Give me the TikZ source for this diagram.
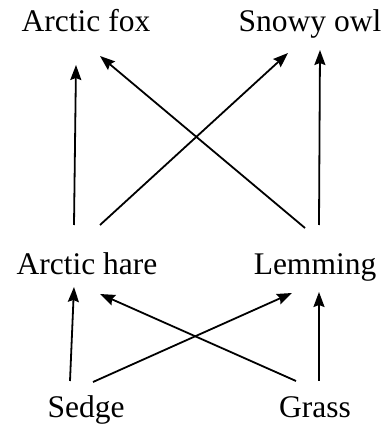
\documentclass[tikz,border=0pt]{standalone}
\usepackage{fontspec}
\setmainfont{Liberation Serif}
\usetikzlibrary{arrows.meta}

\begin{document}
\begin{tikzpicture}[
    x=1pt, y=1pt,
    >={Stealth[length=15pt, width=11pt, inset=2pt]},
    species/.style={anchor=base, inner sep=0pt, font=\fontsize{31.5}{36}\selectfont},
    feeds/.style={->, line width=1.8pt}
    ]
    \useasboundingbox (0,0) rectangle (388,429);

    % --- Especies ---
    \node (fox)     [species] at (86,397)  {Arctic fox};
    \node (owl)     [species] at (310,397) {Snowy owl};
    \node (hare)    [species] at (87,154)  {Arctic hare};
    \node (lemming) [species] at (315,154) {Lemming};
    \node (sedge)   [species] at (86,11)   {Sedge};
    \node (grass)   [species] at (315,11)  {Grass};

    % --- Nivel superior ---
    \draw[feeds] ([shift={(-13,50)}]hare.base) -- ([shift={(-10,-33)}]fox.base);
    \draw[feeds] ([shift={(13,50)}]hare.base) -- ([shift={(-22,-21)}]owl.base);
    \draw[feeds] ([shift={(-10,47)}]lemming.base) -- ([shift={(14,-24)}]fox.base);
    \draw[feeds] ([shift={(4,50)}]lemming.base) -- ([shift={(10,-18)}]owl.base);

    % --- Nivel inferior ---
    \draw[feeds] ([shift={(-16,37)}]sedge.base) -- ([shift={(-13,-12)}]hare.base);
    \draw[feeds] ([shift={(7,36)}]sedge.base) -- ([shift={(-23,-18)}]lemming.base);
    \draw[feeds] ([shift={(-19,37)}]grass.base) -- ([shift={(13,-19)}]hare.base);
    \draw[feeds] ([shift={(4,37)}]grass.base) -- ([shift={(4,-17)}]lemming.base);

\end{tikzpicture}
\end{document}
